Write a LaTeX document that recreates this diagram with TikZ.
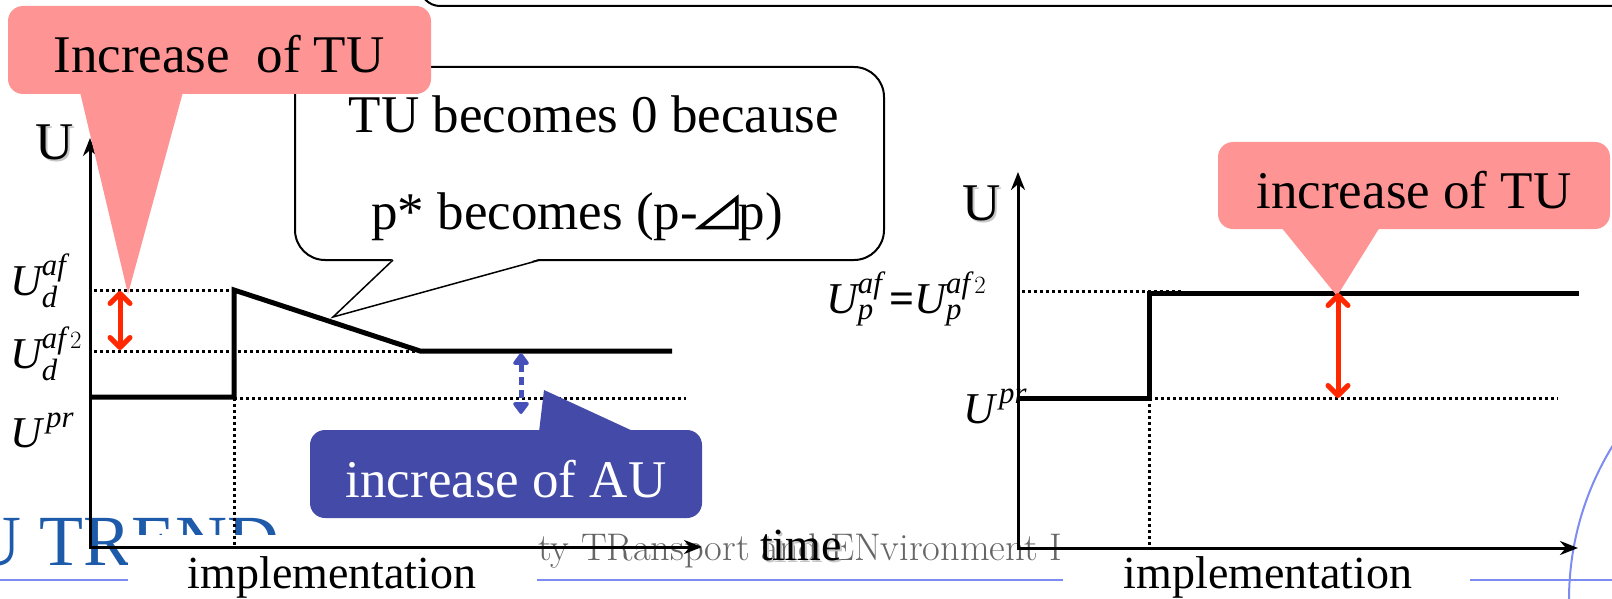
\documentclass[tikz,border=0pt]{standalone}
\usepackage{fontspec}
\usepackage{amsmath}
\newfontfamily\tnr{Liberation Serif}
\usetikzlibrary{arrows.meta}
\definecolor{pinkc}{RGB}{255,148,148}
\definecolor{bluebox}{RGB}{68,74,168}
\definecolor{redarr}{RGB}{255,40,0}
\definecolor{bluearr}{RGB}{70,80,185}
\definecolor{lineblue}{RGB}{125,140,240}
\definecolor{trendblue}{RGB}{30,90,170}
\newcommand{\rtri}{\tikz[x=1pt,y=1pt,baseline=0pt]\draw[line width=3.5pt,line join=miter] (1,1.5) -- (38,1.5) -- (38,31) -- cycle;}
\tikzset{
  big/.style={font=\tnr\fontsize{53}{60}\selectfont, inner sep=0pt},
  mid/.style={font=\tnr\fontsize{46}{54}\selectfont, inner sep=0pt},
  mlab/.style={font=\tnr\fontsize{44}{50}\selectfont, inner sep=0pt, anchor=base west},
  shadowtxt/.style={text=black!22},
  axis/.style={line width=3pt, {Stealth[length=18pt,width=14pt]}-{Stealth[length=18pt,width=14pt]}},
  curve/.style={line width=5pt},
  dots/.style={line width=3pt, dash pattern=on 3pt off 3pt},
  redarrow/.style={draw=redarr, line width=5pt, line cap=round, {Straight Barb[length=10pt,width=20pt,round]}-{Straight Barb[length=10pt,width=20pt,round]}},
  bluedash/.style={draw=bluearr, line width=5pt, dash pattern=on 8pt off 5pt, {Triangle[length=13pt,width=18pt,round]}-{Triangle[length=13pt,width=18pt,round]}},
  pinkbox/.style={fill=pinkc, rounded corners=15pt, inner sep=0pt},
  bluebx/.style={fill=bluebox, rounded corners=15pt, inner sep=0pt},
  calloutbox/.style={draw, fill=white, line width=2pt, rounded corners=30pt, inner sep=0pt},
  footline/.style={draw=lineblue, line width=2pt}
}
\begin{document}
\begin{tikzpicture}[x=1pt,y=-1pt]
\useasboundingbox (0,0) rectangle (1612,599);
\clip (0,0) rectangle (1612,599);
% ---- background slide footer ----
\node[font=\tnr\fontsize{72}{74}\selectfont, text=trendblue, anchor=base west, inner sep=0pt] (trend) at (-31,565) {U TREND};
\node[font=\fontsize{38.5}{42}\selectfont, text=black!60, anchor=base west, inner sep=0pt] (foot) at (538,560) {ty TRansport and ENvironment I};
\coordinate (fl0) at (0,580);
\coordinate (fl1) at (1612,580);
\draw[footline] (fl0) -- (fl1);
\coordinate (arcc) at (1863,600);
\draw[footline] (arcc) circle[radius=294pt];
\fill[white] (128,535) rectangle (537,600);
\fill[white] (1063,535) rectangle (1470,600);
% ---- top partial box ----
\draw[line width=2pt, rounded corners=20pt] (420,-60) rectangle (1700,6);
% ---- left chart ----
\coordinate (LO) at (90,547);
\coordinate (LY) at (90,138);
\coordinate (LX) at (702,547);
\coordinate (L0) at (90,397);
\coordinate (L1) at (234,397);
\coordinate (L2) at (234,290);
\coordinate (L3) at (420,351);
\coordinate (L4) at (672,351);
\coordinate (Ld1) at (94,290);
\coordinate (Ld2) at (94,351);
\coordinate (Ld3) at (686,398);
\coordinate (Lv) at (234,398);
\coordinate (Lvb) at (234,547);
\draw[dots] (Ld1) -- (L2);
\draw[dots] (Ld2) -- (L3);
\draw[dots] (Lv) -- (Ld3);
\draw[dots] (Lv) -- (Lvb);
\draw[curve, line join=miter] (L0) -- (L1) -- (L2) -- (L3) -- (L4);
\draw[axis] (LY) -- (LO) -- (LX);
% ---- right chart ----
\coordinate (RO) at (1018,548);
\coordinate (RY) at (1018,172);
\coordinate (RX) at (1578,548);
\coordinate (R0) at (1018,398);
\coordinate (R1) at (1149,398);
\coordinate (R2) at (1149,293);
\coordinate (R3) at (1579,293);
\coordinate (Rd1) at (1022,291);
\coordinate (Rd2) at (1183,291);
\coordinate (Rd3) at (1558,398);
\coordinate (Rvb) at (1149,548);
\draw[dots] (Rd1) -- (Rd2);
\draw[dots] (R1) -- (Rd3);
\draw[dots] (R1) -- (Rvb);
\draw[curve, line join=miter] (R0) -- (R1) -- (R2) -- (R3);
\draw[axis] (RY) -- (RO) -- (RX);
% ---- axis texts ----
\node[big, shadowtxt, anchor=base] (uLs) at (57,162) {U};
\node[big, anchor=base] (uL) at (55,160) {U};
\node[big, shadowtxt, anchor=base] (uRs) at (984,222) {U};
\node[big, anchor=base] (uR) at (982,220) {U};
\node[mid, shadowtxt, anchor=base] (tms) at (803,562) {time};
\node[mid, anchor=base] (tm) at (801,560) {time};
\node[mid, anchor=base] (impL) at (332,588) {implementation};
\node[mid, anchor=base] (impR) at (1268,588) {implementation};
% ---- math labels ----
\node[mlab] (la1) at (10,295) {$\textit{U}_{\textit{d}}^{\textit{af}}$};
\node[mlab] (la2) at (10,368) {$\textit{U}_{\textit{d}}^{\textit{af}\,2}$};
\node[mlab] (la3) at (10,447) {$\textit{U}^{\,\textit{pr}}$};
\node[mlab] (lb1) at (826,313) {$\textit{U}_{\textit{p}}^{\textit{af}}\;\text{\bfseries =}\textit{U}_{\textit{p}}^{\textit{af}\,2}$};
\node[mlab] (lb2) at (963,423) {$\textit{U}^{\,\textit{pr}}$};
% ---- white callout ----
\node[calloutbox, minimum width=589pt, minimum height=193pt] (cbox) at (589.5,163.5) {};
\coordinate (cpa) at (393,260);
\coordinate (cpb) at (540,260);
\coordinate (cpt) at (333,317);
\fill[white] (393,258.6) -- (cpt) -- (540,258.6) -- cycle;
\draw[line width=1.5pt, line join=miter] (cpa) -- (cpt) -- (cpb);
\node[big, anchor=base] (ct1) at (594,133) {TU becomes 0 because};
\node[big, anchor=base] (ct2) at (577,229) {p* becomes (p-\rtri p)};
% ---- pink callout left ----
\node[pinkbox, minimum width=423pt, minimum height=88pt] (pk1) at (219.5,50) {};
\coordinate (pk1a) at (80,92);
\coordinate (pk1b) at (183,92);
\coordinate (pk1t) at (128,294);
\fill[pinkc] (pk1a) -- (pk1t) -- (pk1b) -- cycle;
\node[big, anchor=base] (pk1txt) at (219,73) {Increase\ \ of TU};
% ---- pink callout right ----
\node[pinkbox, minimum width=392pt, minimum height=87pt] (pk2) at (1414,185.5) {};
\coordinate (pk2a) at (1281,227);
\coordinate (pk2b) at (1380,227);
\coordinate (pk2t) at (1337,296);
\fill[pinkc] (pk2a) -- (pk2t) -- (pk2b) -- cycle;
\node[big, anchor=base] (pk2txt) at (1414,208) {increase of TU};
% ---- blue callout ----
\node[bluebx, minimum width=392pt, minimum height=88pt] (bb) at (506,474) {};
\coordinate (bba) at (539,432);
\coordinate (bbt) at (544,390);
\coordinate (bbb) at (635,432);
\fill[bluebox] (bba) -- (bbt) -- (bbb) -- cycle;
\node[big, anchor=base, text=white] (bbtxt) at (506,497) {increase of AU};
% ---- arrows ----
\coordinate (ra1) at (120,291);
\coordinate (ra2) at (120,350);
\draw[redarrow] (ra1) -- (ra2);
\coordinate (rb1) at (1338,293);
\coordinate (rb2) at (1338,398);
\draw[redarrow] (rb1) -- (rb2);
\coordinate (ba1) at (521,353);
\coordinate (ba2) at (521,414);
\draw[bluedash] (ba1) -- (ba2);
\end{tikzpicture}
\end{document}
